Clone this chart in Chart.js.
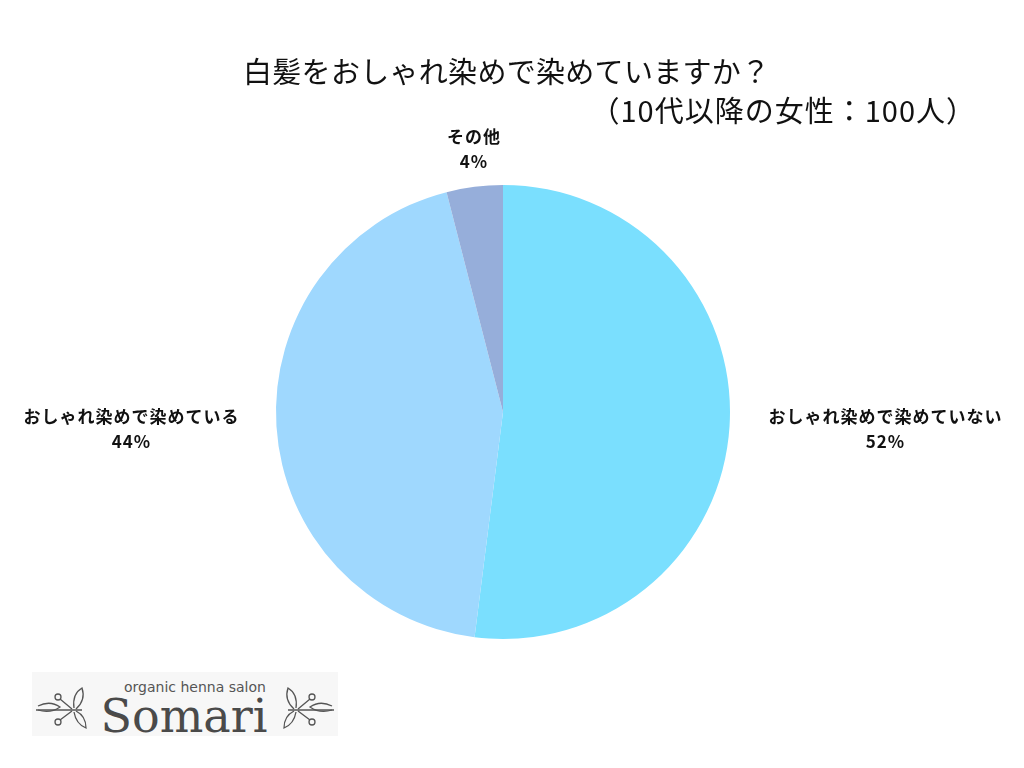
<!DOCTYPE html>
<html>
<head>
<meta charset="utf-8">
<script src="https://cdn.jsdelivr.net/npm/chart.js@4.4.1/dist/chart.umd.min.js"></script>
<style>
  body { margin: 0; background: #fff; font-family: "Noto Sans CJK JP", sans-serif; }
  #wrap { position: relative; width: 1024px; height: 768px; }
  .title { position: absolute; color: #111; font-size: 29px; white-space: nowrap; line-height: 1; }
  #t1 { left: 243px; top: 56px; letter-spacing: 0.3px; }
  #t2 { right: 48px; top: 95px; letter-spacing: 1px; }
  #logo { position: absolute; left: 32px; top: 672px; width: 306px; height: 64px; background: #f7f7f7; }
</style>
</head>
<body>
<div id="wrap">
  <canvas id="pieChart" width="1024" height="768"></canvas>
  <div class="title" id="t1">白髪をおしゃれ染めで染めていますか？</div>
  <div class="title" id="t2">（10代以降の女性：100人）</div>
  <div id="logo">
    <svg width="306" height="64" viewBox="0 0 306 64">
      <g fill="none" stroke="#555" stroke-width="1.3">
        <path d="M4 38 L50 38"/>
        <path d="M6 34 Q18 28 28 35 Q18 42 6 38"/>
        <circle cx="26" cy="25" r="3"/>
        <circle cx="26" cy="50" r="3"/>
        <path d="M28 27 L40 37 M28 48 L40 39"/>
        <path d="M42 36 Q40 22 50 16 Q54 28 44 37"/>
        <path d="M42 40 Q44 52 54 56 Q54 44 44 39"/>
        <path d="M302 38 L256 38"/>
        <path d="M300 34 Q288 28 278 35 Q288 42 300 38"/>
        <circle cx="280" cy="25" r="3"/>
        <circle cx="280" cy="50" r="3"/>
        <path d="M278 27 L266 37 M278 48 L266 39"/>
        <path d="M264 36 Q266 22 256 16 Q252 28 262 37"/>
        <path d="M264 40 Q262 52 252 56 Q252 44 262 39"/>
      </g>
      <text x="163" y="20" text-anchor="middle" font-family="DejaVu Sans" font-size="14" fill="#555">organic henna salon</text>
      <text x="152" y="60" text-anchor="middle" font-family="DejaVu Serif" font-size="46" fill="#4a4a4a">Somari</text>
    </svg>
  </div>
</div>
<script>
const categories = ['おしゃれ染めで染めていない', 'おしゃれ染めで染めている', 'その他'];
const percents = [52, 44, 4];
const sliceColors = ['#7adffe', '#9fd8fe', '#96aeda'];

// Labels outside the pie, placed beside each slice
const outsideLabels = {
  id: 'outsideLabels',
  afterDatasetsDraw(chart) {
    const ctx = chart.ctx;
    const arcs = chart.getDatasetMeta(0).data;
    ctx.save();
    ctx.font = 'bold 17px "Noto Sans CJK JP"';
    ctx.letterSpacing = '1px';
    ctx.fillStyle = '#111';
    ctx.textBaseline = 'middle';
    arcs.forEach((arc, i) => {
      const mid = (arc.startAngle + arc.endAngle) / 2;
      const cos = Math.cos(mid), sin = Math.sin(mid);
      const lines = [categories[i], percents[i] + '%'];
      const w = Math.max(...lines.map(l => ctx.measureText(l).width));
      const lh = 25;
      let cx, cy;
      if (Math.abs(cos) > 0.5) {
        const r = arc.outerRadius + 38;
        const px = arc.x + r * cos, py = arc.y + r * sin;
        cx = cos > 0 ? px + w / 2 : px - w / 2;
        cy = py;
      } else {
        const r = arc.outerRadius + 13;
        const px = arc.x + r * cos, py = arc.y + r * sin;
        cx = px;
        cy = sin < 0 ? py - lh : py + lh;
      }
      ctx.textAlign = 'center';
      ctx.fillText(lines[0], cx + 1, cy - lh / 2);
      ctx.fillText(lines[1], cx + 1, cy + lh / 2);
    });
    ctx.restore();
  }
};

const pieCtx = document.getElementById('pieChart').getContext('2d');
new Chart(pieCtx, {
  type: 'pie',
  data: {
    labels: categories,
    datasets: [{
      data: percents,
      backgroundColor: sliceColors,
      borderWidth: 0
    }]
  },
  options: {
    responsive: false,
    animation: false,
    layout: { padding: { top: 185, bottom: 129, left: 276, right: 294 } },
    plugins: { legend: { display: false }, tooltip: { enabled: false } }
  },
  plugins: [outsideLabels]
});
</script>
</body>
</html>
